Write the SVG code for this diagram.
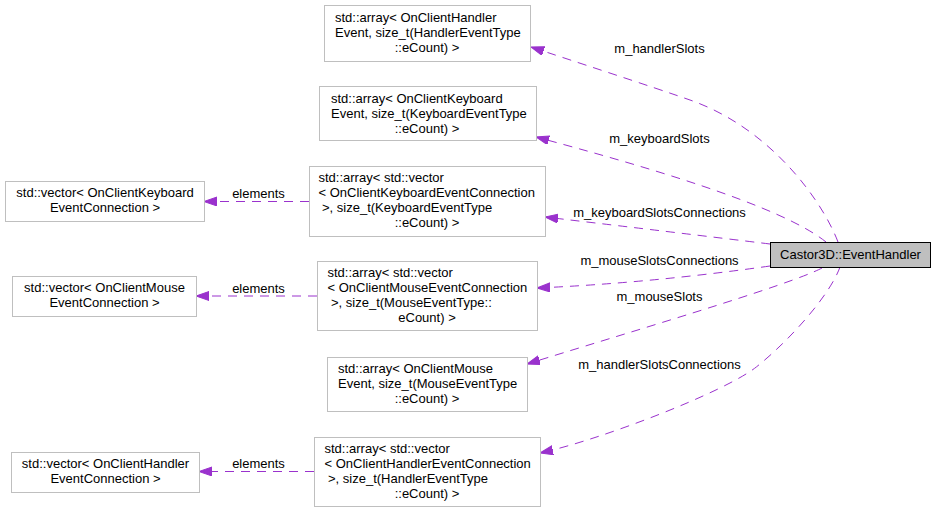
<svg xmlns="http://www.w3.org/2000/svg" width="936" height="513" viewBox="0 0 936 513">
<style>
.node rect{fill:#ffffff;stroke:#bfbfbf;stroke-width:1}
.main rect{fill:#bfbfbf;stroke:#000000;stroke-width:1}
text{font-family:"Liberation Sans",Arial,sans-serif;font-size:13px;fill:#000000}
.c{text-anchor:middle}
.edge{fill:none;stroke:#9a32cd;stroke-width:1;stroke-dasharray:9,7}
</style>
<defs>
<marker id="arr" markerUnits="userSpaceOnUse" markerWidth="14" markerHeight="10" refX="13" refY="4.5" orient="auto">
<path d="M0,0 L13,4.5 L0,9 z" fill="#9a32cd" stroke="#9a32cd" stroke-width="1"/>
</marker>
</defs>
<rect width="936" height="513" fill="#ffffff"/>
<g id="connectors">
<path class="edge" marker-end="url(#arr)" d="M838,242 C822,200 770,128 690,100 C650,86 570,60 531,47"/>
<path class="edge" marker-end="url(#arr)" d="M826,242 C780,205 640,165 536,137"/>
<path class="edge" marker-end="url(#arr)" d="M770,244 Q680,233 545,217"/>
<path class="edge" marker-end="url(#arr)" d="M770,266 Q650,283 537,288"/>
<path class="edge" marker-end="url(#arr)" d="M822,268 C790,285 620,335 527,364"/>
<path class="edge" marker-end="url(#arr)" d="M840,267 C830,295 790,340 756.7,366.7 C725,392 600,440 540,453"/>
<path class="edge" marker-end="url(#arr)" d="M309,201.5 L204,201.5"/>
<path class="edge" marker-end="url(#arr)" d="M317,296 L196,296"/>
<path class="edge" marker-end="url(#arr)" d="M314,471.5 L199,471.5"/>
<text class="c" x="659.5" y="52.5">m_handlerSlots</text>
<text class="c" x="659.5" y="143">m_keyboardSlots</text>
<text class="c" x="659.5" y="216.5">m_keyboardSlotsConnections</text>
<text class="c" x="659.5" y="264.5">m_mouseSlotsConnections</text>
<text class="c" x="659.5" y="301">m_mouseSlots</text>
<text class="c" x="659.5" y="368.5">m_handlerSlotsConnections</text>
<text class="c" x="258.5" y="198">elements</text>
<text class="c" x="258.5" y="292.5">elements</text>
<text class="c" x="258.5" y="468">elements</text>
</g>
<g id="eventhandler" class="main">
<rect x="770.5" y="242.5" width="160" height="25"/>
<text class="c" x="850.5" y="258.5">Castor3D::EventHandler</text>
</g>
<g id="handlerSlots" class="node">
<rect x="324.5" y="5.5" width="206" height="56"/>
<text x="335" y="22">std::array&lt; OnClientHandler</text>
<text x="335" y="37">Event, size_t(HandlerEventType</text>
<text class="c" x="427" y="52">::eCount) &gt;</text>
</g>
<g id="keyboardSlots" class="node">
<rect x="319.5" y="86.5" width="217" height="54"/>
<text x="331" y="102.5">std::array&lt; OnClientKeyboard</text>
<text x="331" y="117.5">Event, size_t(KeyboardEventType</text>
<text class="c" x="427" y="132.5">::eCount) &gt;</text>
</g>
<g id="keyboardSlotsConnections" class="node">
<rect x="309.5" y="166.5" width="236" height="70"/>
<text x="318.5" y="182">std::array&lt; std::vector</text>
<text x="318.5" y="197">&lt; OnClientKeyboardEventConnection</text>
<text x="322" y="212">&gt;, size_t(KeyboardEventType</text>
<text class="c" x="427" y="227">::eCount) &gt;</text>
</g>
<g id="mouseSlotsConnections" class="node">
<rect x="317.5" y="261.5" width="220" height="69"/>
<text x="327.5" y="277">std::array&lt; std::vector</text>
<text x="327.5" y="292">&lt; OnClientMouseEventConnection</text>
<text x="331" y="307">&gt;, size_t(MouseEventType::</text>
<text class="c" x="427" y="322">eCount) &gt;</text>
</g>
<g id="mouseSlots" class="node">
<rect x="327.5" y="357.5" width="200" height="54"/>
<text x="338" y="372.5">std::array&lt; OnClientMouse</text>
<text x="338" y="387.5">Event, size_t(MouseEventType</text>
<text class="c" x="427" y="402.5">::eCount) &gt;</text>
</g>
<g id="handlerSlotsConnections" class="node">
<rect x="314.5" y="437.5" width="226" height="69"/>
<text x="324.5" y="453">std::array&lt; std::vector</text>
<text x="324.5" y="468">&lt; OnClientHandlerEventConnection</text>
<text x="328" y="483">&gt;, size_t(HandlerEventType</text>
<text class="c" x="427" y="498">::eCount) &gt;</text>
</g>
<g id="vecKeyboard" class="node">
<rect x="5.5" y="181.5" width="199" height="40"/>
<text class="c" x="105" y="197">std::vector&lt; OnClientKeyboard</text>
<text class="c" x="105" y="212">EventConnection &gt;</text>
</g>
<g id="vecMouse" class="node">
<rect x="12.5" y="276.5" width="184" height="40"/>
<text class="c" x="104.5" y="292">std::vector&lt; OnClientMouse</text>
<text class="c" x="104.5" y="307">EventConnection &gt;</text>
</g>
<g id="vecHandler" class="node">
<rect x="11.5" y="452.5" width="188" height="40"/>
<text class="c" x="105.5" y="468">std::vector&lt; OnClientHandler</text>
<text class="c" x="105.5" y="483">EventConnection &gt;</text>
</g>
</svg>
